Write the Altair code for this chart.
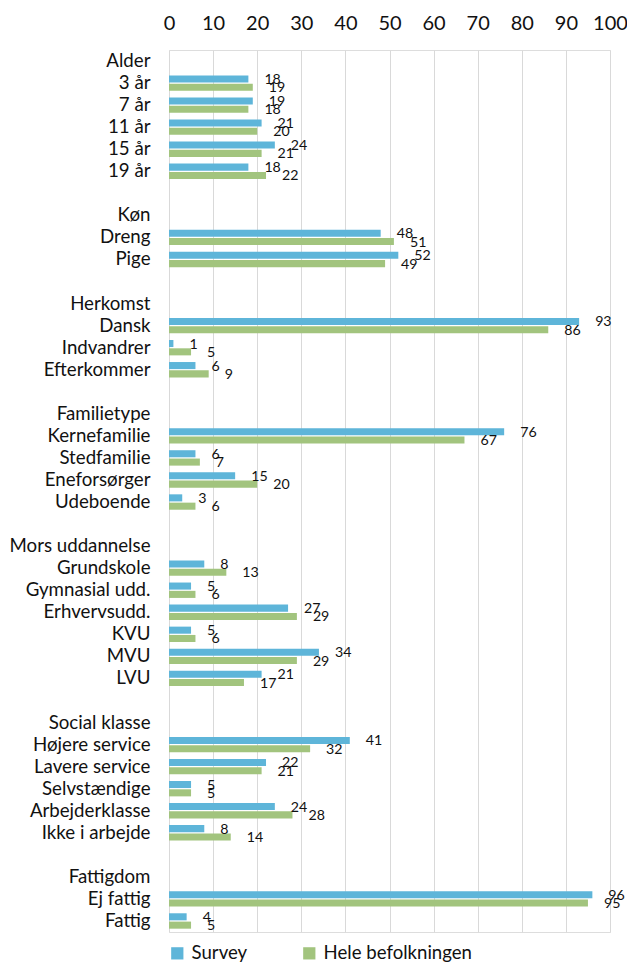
import altair as alt
import pandas as pd

NB = "\u00a0"

groups = ["Alder", "Køn" + NB, "Herkomst", "Familietype", "Mors uddannelse", "Social klasse", "Fattigdom"]
items = [
    ["3 år", "7 år", "11 år", "15 år", "19 år"],
    ["Dreng" + NB, "Pige"],
    ["Dansk", "Indvandrer", "Efterkommer"],
    ["Kernefamilie", "Stedfamilie", "Eneforsørger", "Udeboende"],
    ["Grundskole", "Gymnasial udd.", "Erhvervsudd.", "KVU", "MVU", "LVU"],
    ["Højere service", "Lavere service", "Selvstændige", "Arbejderklasse", "Ikke i arbejde"],
    ["Ej fattig", "Fattig"],
]
survey = [
    [18, 19, 21, 24, 18],
    [48, 52],
    [93, 1, 6],
    [76, 6, 15, 3],
    [8, 5, 27, 5, 34, 21],
    [41, 22, 5, 24, 8],
    [96, 4],
]
hele = [
    [19, 18, 20, 21, 22],
    [51, 49],
    [86, 5, 9],
    [67, 7, 20, 6],
    [13, 6, 29, 6, 29, 17],
    [32, 21, 5, 28, 14],
    [95, 5],
]
series_names = ["Survey", "Hele befolkningen"]
colors = ["#5EB5D9", "#A2C47E"]

row_order = []
records = []
for gi, g in enumerate(groups):
    row_order.append(g)
    for it, s, h in zip(items[gi], survey[gi], hele[gi]):
        row_order.append(it)
        records.append({"row": it, "series": series_names[0], "value": s})
        records.append({"row": it, "series": series_names[1], "value": h})
    if gi < len(groups) - 1:
        row_order.append(NB * (gi + 1))

df = pd.DataFrame(records)

FONT = "Lato"
TXT = "#111111"

y_enc = alt.Y(
    "row:N",
    scale=alt.Scale(domain=row_order, paddingInner=0, paddingOuter=0),
    axis=alt.Axis(title=None, labelFontSize=18.7, labelFont=FONT, labelColor=TXT,
                  labelPadding=19, ticks=False, domain=False, grid=False,
                  labelLimit=300, labelOverlap=False),
)
yoff = alt.YOffset(
    "series:N",
    scale=alt.Scale(domain=series_names, paddingInner=0.15, paddingOuter=0.4),
)
x_enc = alt.X(
    "value:Q",
    scale=alt.Scale(domain=[0, 100], nice=False),
    axis=alt.Axis(orient="top", title=None, values=list(range(0, 101, 10)),
                  labelFontSize=20, labelFont=FONT, labelColor=TXT,
                  labelOverlap=False, labelBound=False, labelFlush=False,
                  ticks=False, domain=False, grid=True, gridColor="#D9D9D9",
                  gridWidth=1, labelPadding=17),
)

base = alt.Chart(df)

bars = base.mark_bar().encode(
    x=x_enc,
    y=y_enc,
    yOffset=yoff,
    color=alt.Color(
        "series:N",
        scale=alt.Scale(domain=series_names, range=colors),
        legend=alt.Legend(
            title=None, orient="none", legendX=-1, legendY=894,
            direction="horizontal", symbolType="square", symbolSize=150,
            symbolStrokeWidth=0, labelFontSize=18.6, labelFont=FONT,
            labelColor=TXT, columnPadding=52, labelOffset=5,
        ),
    ),
)

labels = base.mark_text(align="left", baseline="middle", dx=16, dy=1,
                        fontSize=14.2, font=FONT, color=TXT).encode(
    x="value:Q",
    y=alt.Y("row:N", scale=alt.Scale(domain=row_order)),
    yOffset=yoff,
    text="value:Q",
)

chart = (bars + labels).properties(
    width=441, height=882,
    autosize=alt.AutoSizeParams(type="none"),
    padding={"left": 161, "top": 42, "right": 17, "bottom": 32},
).configure_view(stroke=None).configure(background="white")

chart.save("out.html", embed_options={"renderer": "svg", "actions": False})
